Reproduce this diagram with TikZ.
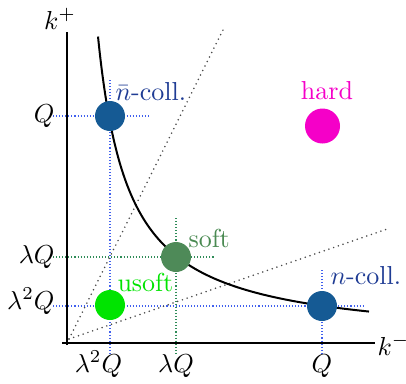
\documentclass[tikz,border=0pt]{standalone}
\usepackage{tikz}
\definecolor{navytext}{HTML}{1F3C94}
\definecolor{collblue}{HTML}{155A94}
\definecolor{softgreen}{HTML}{4E8A58}
\definecolor{softtext}{HTML}{4A8A52}
\definecolor{usoftgreen}{HTML}{00E400}
\definecolor{hardmag}{HTML}{F500C8}
\definecolor{guideblue}{HTML}{4060EE}
\definecolor{guidegreen}{HTML}{2E8B57}
\definecolor{dotgray}{HTML}{4A4A4A}
\tikzset{
  blob/.style={circle, inner sep=0pt, minimum size=30*0.75pt, fill=#1},
  guide/.style={draw=#1, line width=0.8pt, dash pattern=on 0.8pt off 1.5pt},
  ray/.style={draw=dotgray, line width=1.3pt, line cap=round, dash pattern=on 0pt off 3.75pt},
  axis/.style={draw=black, line width=1.5pt},
  lbl/.style={font=\fontsize{10}{12}\selectfont, inner sep=0pt, scale=1.95},
}
\begin{document}
\begin{tikzpicture}[x=0.75pt,y=-0.75pt]
\path[use as bounding box] (0,0) rectangle (406,383);
% guide coordinates
\coordinate (gQl) at (53,116);   \coordinate (gQr) at (149,116);
\coordinate (gLl) at (53,257);   \coordinate (gLr) at (215,257);
\coordinate (gL2l) at (53,306);  \coordinate (gL2r) at (363,306);
\coordinate (vL2t) at (110,80);  \coordinate (vL2b) at (110,355);
\coordinate (vLt) at (176,218);  \coordinate (vLb) at (176,355);
\coordinate (vQt) at (322,270);  \coordinate (vQb) at (322,355);
% guides
\draw[guide=guideblue] (gQl) -- (gQr);
\draw[guide=guideblue] (gL2l) -- (gL2r);
\draw[guide=guideblue] (vL2t) -- (vL2b);
\draw[guide=guideblue] (vQt) -- (vQb);
\draw[guide=guidegreen] (gLl) -- (gLr);
\draw[guide=guidegreen] (vLt) -- (vLb);
% rays
\coordinate (r0) at (69,339);
\coordinate (r1) at (223,30);
\coordinate (r2) at (390,228);
\draw[ray] (r0) -- (r1);
\draw[ray] (r0) -- (r2);
% axes
\coordinate (yb) at (67,345); \coordinate (yt) at (67,32);
\coordinate (xl) at (62,343); \coordinate (xr) at (375,343);
\draw[axis] (yb) -- (yt);
\draw[axis] (xl) -- (xr);
% hyperbola
\draw[line width=1.5pt] plot[domain=31:302, samples=150, smooth] ({67+\x},{343-9500/\x});
% blobs
\node[blob=collblue] (nbar) at (110,116) {};
\node[blob=softgreen] (soft) at (176,257) {};
\node[blob=usoftgreen] (usoft) at (110,305) {};
\node[blob=collblue] (ncoll) at (322,306) {};
\node[blob=hardmag, minimum size=35*0.75pt] (hard) at (322.5,126) {};
% region labels
\node[lbl, text=navytext, anchor=base west] (tnbar) at (115,100) {$\bar n$-coll.};
\node[lbl, text=hardmag, anchor=base] (thard) at (327,99) {hard};
\node[lbl, text=softtext, anchor=base west] (tsoft) at (188,247) {soft};
\node[lbl, text=usoftgreen, anchor=base west] (tusoft) at (117,291) {usoft};
\node[lbl, text=navytext, anchor=base west] (tncoll) at (330,284) {$n$-coll.};
% axis labels
\node[lbl, anchor=base] (kp) at (60,29) {$k^+$};
\node[lbl, anchor=base west] (km) at (377,355) {$k^-$};
\node[lbl, anchor=east] (yQ) at (55,116) {$Q$};
\node[lbl, anchor=east] (yL) at (55,257) {$\lambda Q$};
\node[lbl, anchor=east] (yL2) at (55,301) {$\lambda^2 Q$};
\node[lbl, anchor=base] (xL2) at (98.5,372) {$\lambda^2 Q$};
\node[lbl, anchor=base] (xL) at (176,372) {$\lambda Q$};
\node[lbl, anchor=base] (xQ) at (322,372) {$Q$};
\end{tikzpicture}
\end{document}
